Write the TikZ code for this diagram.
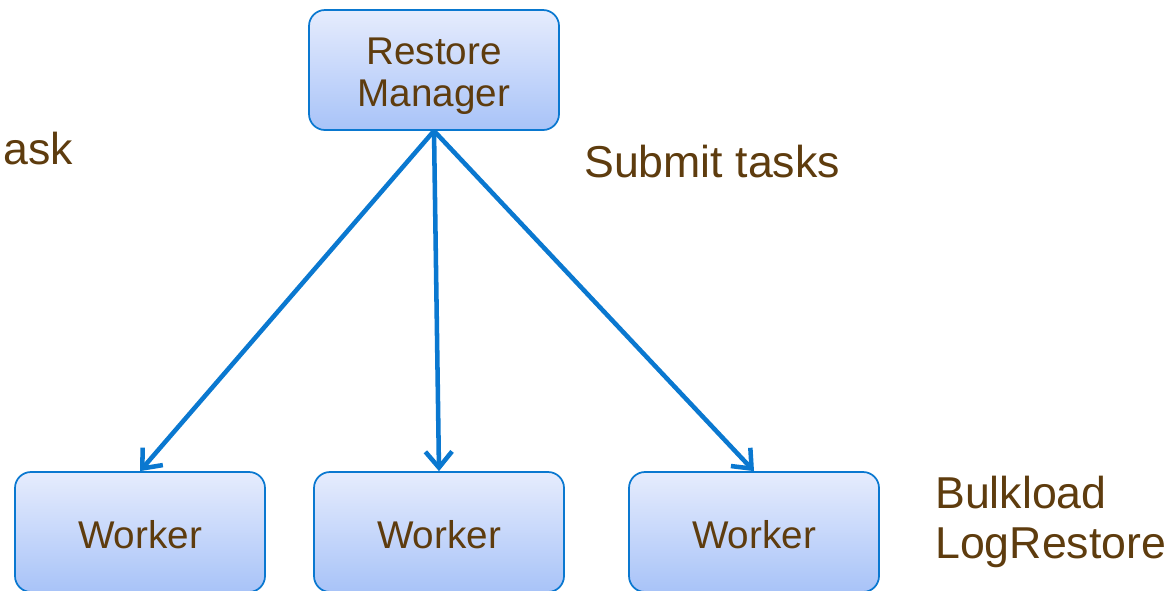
\documentclass[tikz,border=0pt]{standalone}
\usepackage{fontspec}
\setmainfont{Liberation Sans}
\usetikzlibrary{arrows.meta}
\definecolor{edge}{HTML}{0A78D0}
\definecolor{txt}{HTML}{5E3C0E}
\definecolor{topc}{HTML}{E6ECFD}
\definecolor{botc}{HTML}{A8C3F8}
\begin{document}
\begin{tikzpicture}[x=0.75pt,y=-0.75pt,
  box/.style={draw=edge,line width=1.3pt,rounded corners=12pt,top color=topc,bottom color=botc,
    minimum width=250*0.75pt,minimum height=120*0.75pt,inner sep=0pt,align=center,
    text=txt,font=\fontsize{29pt}{32pt}\selectfont},
  note/.style={text=txt,font=\fontsize{33.5pt}{37pt}\selectfont,inner sep=0pt},
  arr/.style={draw=edge,line width=3.4pt,-{Straight Barb[length=12pt,width=20pt,line width=3.4pt]}}]
\useasboundingbox (0,0) rectangle (1173,590);
\clip (0,0) rectangle (1173,590);
\node[box,text depth=0pt,text height=55pt] (rm) at (434,70) {Restore\\Manager};
\node[box,text depth=0pt,text height=25.3pt] (w1) at (140,532) {Worker};
\node[box,text depth=0pt,text height=25.3pt] (w2) at (439,532) {Worker};
\node[box,text depth=0pt,text height=25.3pt] (w3) at (754,532) {Worker};
\node[note,anchor=base east] (task) at (73,164) {ask};
\node[note,anchor=base west] (submit) at (584,177) {Submit tasks};
\node[note,anchor=base west] (bulk) at (935,508) {Bulkload};
\node[note,anchor=base west] (logr) at (935,558) {LogRestore};
\draw[arr] (rm.south) -- (w1.north);
\draw[arr] (rm.south) -- (w2.north);
\draw[arr] (rm.south) -- (w3.north);
\end{tikzpicture}
\end{document}
